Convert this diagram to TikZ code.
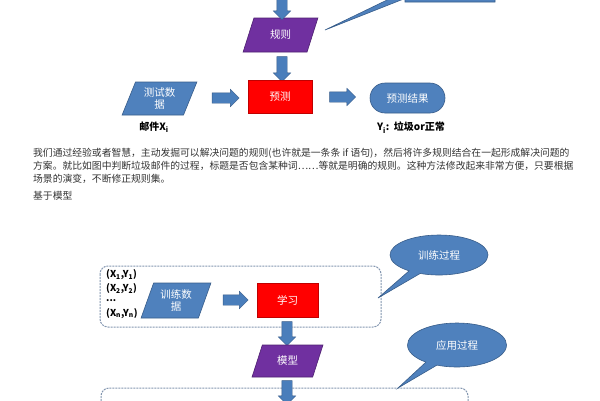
\documentclass[tikz,border=0pt]{standalone}
\usepackage{fontspec}
\setmainfont{Noto Sans CJK SC}
\usetikzlibrary{shapes.geometric,shapes.arrows,shapes.callouts,calc}
\definecolor{sblue}{HTML}{4F81BD}
\definecolor{sblueline}{HTML}{385D8A}
\definecolor{spurple}{HTML}{7030A0}
\definecolor{spurpleline}{HTML}{4E2170}
\definecolor{sred}{HTML}{FF0000}
\definecolor{sredline}{HTML}{C00000}
\definecolor{ablue}{HTML}{4A7EBB}
\definecolor{dashc}{HTML}{8497B0}
\definecolor{txt}{HTML}{333333}
\tikzset{
  paral/.style={trapezium, trapezium stretches=true, trapezium left angle=68,
    trapezium right angle=112, text=white, align=center, inner sep=1pt,
    font=\fontsize{10.5}{11.5}\selectfont, line width=0.6pt},
  bluepar/.style={paral, fill=sblue, draw=sblueline},
  purppar/.style={paral, fill=spurple, draw=spurpleline},
  redbox/.style={rectangle, fill=sred, draw=sredline, line width=0.6pt, text=white,
    font=\fontsize{10.5}{12}\selectfont},
  barrow/.style={single arrow, fill=ablue, draw=sblueline, line width=0.4pt,
    inner sep=5pt, minimum width=17pt, single arrow head extend=3.5pt,
    single arrow head indent=0pt, minimum height=#1},
  lbl/.style={font=\fontsize{10}{12}\selectfont\bfseries, text=black, inner sep=0pt},
  slbl/.style={lbl, anchor=west, font=\fontsize{9.5}{11}\selectfont\bfseries},
  paraline/.style={font=\fontsize{9.8}{12}\selectfont, text=txt, anchor=west, inner sep=0pt},
  dbox/.style={draw=dashc, dash pattern=on 2pt off 1pt, line width=1pt, rounded corners=8pt},
  bcallout/.style={fill=sblue, draw=sblueline, line width=0.6pt, text=white,
    font=\fontsize{10.5}{12}\selectfont}
}
\begin{document}
\begin{tikzpicture}[x=1pt,y=-1pt]
\useasboundingbox (0,0) rectangle (600,400);
\clip (0,0) rectangle (600,400);
\fill[white] (0,0) rectangle (600,400);

% ---------- top part ----------
\coordinate (tipTop) at (325,30);
\node[rectangle callout, bcallout, minimum width=90pt, minimum height=34pt,
  callout absolute pointer={(tipTop)}] (topcall) at (450,-15) {};

\node[purppar, minimum width=75pt, minimum height=34pt] (rule) at (280.5,35) {规则};
\node[barrow=20pt, rotate=-90] (a0) at (282,7) {};
\node[barrow=25pt, rotate=-90] (a1) at (282,66.5) {};

\node[bluepar, minimum width=75pt, minimum height=33pt] (test) at (159.5,98.5) {测试数\\据};
\node[redbox, minimum width=64pt, minimum height=33pt] (pred) at (280,96.5) {预测};
\node[rectangle, rounded corners=15pt, fill=sblue, draw=sblueline, line width=0.6pt,
  text=white, font=\fontsize{10.5}{12}\selectfont, minimum width=75pt, minimum height=30pt]
  (res) at (407.5,98) {预测结果};
\node[barrow=27pt] (a2) at (223,98) {};
\node[barrow=26pt] (a3) at (340,97) {};

\node[lbl] (mail) at (154,127.5) {邮件X\textsubscript{i}};
\node[lbl] (yres) at (411,127.5) {Y\textsubscript{i}:\ \ 垃圾or正常};

% ---------- paragraph ----------
\node[paraline] (p1) at (33,153) {我们通过经验或者智慧，主动发掘可以解决问题的规则(也许就是一条条 if 语句)，然后将许多规则结合在一起形成解决问题的};
\node[paraline] (p2) at (33,166) {方案。就比如图中判断垃圾邮件的过程，标题是否包含某种词……等就是明确的规则。这种方法修改起来非常方便，只要根据};
\node[paraline] (p3) at (33,179) {场景的演变，不断修正规则集。};
\node[paraline] (p4) at (33,196) {基于模型};

% ---------- model part ----------
\draw[dbox] (100,266) rectangle (381,327);
\draw[dbox] (101,388) rectangle (468,430);

\node[slbl] (s1) at (106,275) {(X\textsubscript{1},Y\textsubscript{1})};
\node[slbl] (s2) at (106,289) {(X\textsubscript{2},Y\textsubscript{2})};
\node[slbl] (s3) at (106,301) {...};
\node[slbl] (s4) at (106,314) {(X\textsubscript{n},Y\textsubscript{n})};

\node[bluepar, minimum width=70pt, minimum height=35pt] (train) at (176,300.5) {训练数\\据};
\node[redbox, minimum width=61pt, minimum height=34pt] (learn) at (287.5,300) {学习};
\node[barrow=25pt] (a4) at (233,300) {};
\node[barrow=24pt, rotate=-90] (a5) at (287,331) {};
\node[purppar, minimum width=71pt, minimum height=32pt] (model) at (287.5,361) {模型};
\node[barrow=24pt, rotate=-90] (a6) at (287,390) {};

\coordinate (tipA) at (378,298);
\coordinate (tipB) at (398,388);
\node[ellipse callout, bcallout, minimum width=98pt, minimum height=40pt,
  callout absolute pointer={(tipA)}] (c1) at (439,255) {训练过程};
\node[ellipse callout, bcallout, minimum width=99pt, minimum height=44pt,
  callout absolute pointer={(tipB)}] (c2) at (457,345) {应用过程};
\end{tikzpicture}
\end{document}
